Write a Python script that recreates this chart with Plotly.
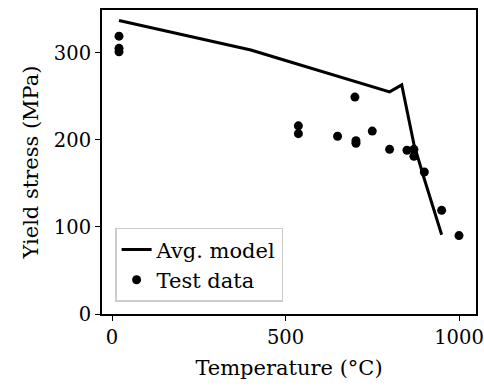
import plotly.graph_objects as go

model_T = [20, 100, 200, 300, 400, 500, 600, 700, 800, 835, 870, 900, 950]
model_S = [337, 330, 321, 312, 303, 291, 279, 267, 255, 263, 195, 155, 91]

test_T = [20, 20, 20, 537, 537, 650, 700, 703, 703, 750, 800, 850, 870, 870, 900, 950, 1000]
test_S = [319, 305, 301, 216, 207, 204, 249, 199, 196, 210, 189, 188, 189, 181, 163, 119, 90]

x_ticks = [0, 500, 1000]
y_ticks = [0, 100, 200, 300]

FONT = "DejaVu Serif"

fig = go.Figure()
fig.add_trace(go.Scatter(x=model_T, y=model_S, mode="lines", name="Avg. model",
                         line=dict(color="black", width=3)))
fig.add_trace(go.Scatter(x=test_T, y=test_S, mode="markers", name="Test data",
                         marker=dict(color="black", size=9)))

axis_common = dict(showline=True, linecolor="black", linewidth=2, mirror=True,
                   ticks="outside", ticklen=5, tickwidth=1.3, tickcolor="black",
                   showgrid=False, zeroline=False, automargin=False,
                   tickfont=dict(family=FONT, size=19.5, color="black"))

fig.update_layout(
    width=484, height=388,
    margin=dict(l=102, r=8, t=10, b=74),
    paper_bgcolor="white", plot_bgcolor="white",
    font=dict(family=FONT, size=19.5, color="black"),
    xaxis=dict(range=[-29, 1049], tickvals=x_ticks,
               title=dict(text="Temperature (°C)", font=dict(family=FONT, size=21), standoff=12),
               **axis_common),
    yaxis=dict(range=[0, 349], tickvals=y_ticks,
               title=dict(text="Yield stress (MPa)", font=dict(family=FONT, size=21), standoff=10),
               **axis_common),
    legend=dict(x=0.035, y=0.04, xanchor="left", yanchor="bottom",
                bordercolor="#cccccc", borderwidth=1.5, bgcolor="rgba(255,255,255,0.8)",
                font=dict(family=FONT, size=21, color="black"),
                tracegroupgap=2),
    showlegend=True,
)

fig.write_html("out.html")
